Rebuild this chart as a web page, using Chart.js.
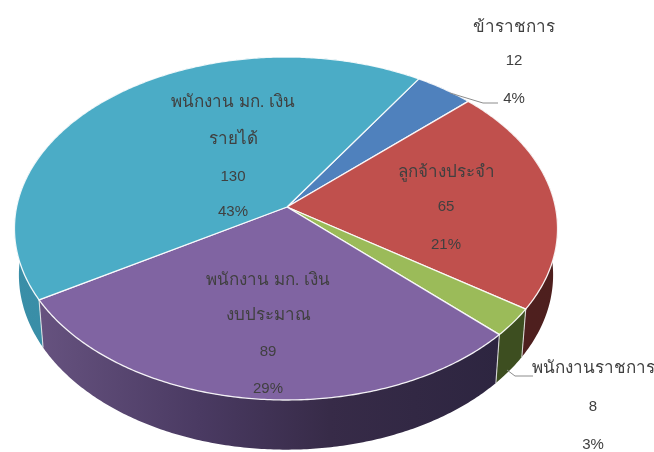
<!DOCTYPE html>
<html><head><meta charset="utf-8">
<style>html,body{margin:0;padding:0;background:#fff}canvas{display:block;filter:blur(.55px)}</style>
<script src="https://cdn.jsdelivr.net/npm/chart.js@4"></script></head>
<body><canvas id="c" width="654" height="452"></canvas>
<script>
const categories=["ข้าราชการ","ลูกจ้างประจำ","พนักงานราชการ","พนักงาน มก. เงิน|งบประมาณ","พนักงาน มก. เงิน|รายได้"];
const values=[12,65,8,89,130];
const topColors=["#4f81bd","#c0504d","#9bbb59","#8064a2","#4bacc6"];
const wallColors=[["#2f4f78","#2f4f78"],["#4d1f1e","#521f1e"],["#3d4e20","#3d4e20"],null,["#2f7f97","#3a8fa8"]];
const labelX=[514,446,593,268,233];
const labelY=[[27,60.5,98.5],[172,206.5,244.5],[368,406.5,444.5],[280,315,351.5,388.5],[102,139,176.5,211.5]];

const top_={cx:286,y0:207,A:269.4,B:168.8,k:0.1254};
const low_={cx:286,y0:253,A:265,B:172,k:0.1254};
function pt(s,a){const u=Math.cos(a),v=Math.sin(a),d=1-s.k*v;return [s.cx+s.A*u/d,s.y0+s.B*v/d];}
function steps(a0,a1){return Math.max(2,Math.ceil((a1-a0)/0.01));}
function arcTrace(ctx,s,a0,a1,move){
  const n=steps(a0,a1);
  for(let i=0;i<=n;i++){const p=pt(s,a0+(a1-a0)*i/n);
    if(i===0&&move)ctx.moveTo(p[0],p[1]);else ctx.lineTo(p[0],p[1]);}
}
Chart.ArcElement.prototype.draw=function(ctx){
  const a0=this.startAngle,a1=this.endAngle;
  ctx.save();
  ctx.beginPath();ctx.moveTo(top_.cx+1,top_.y0);arcTrace(ctx,top_,a0,a1,false);ctx.closePath();
  ctx.fillStyle=this.options.backgroundColor;ctx.fill();
  ctx.lineJoin='round';ctx.strokeStyle='rgba(255,255,255,.9)';ctx.lineWidth=1.3;ctx.stroke();
  ctx.restore();
};
const wallPlugin={id:'wall',beforeDatasetsDraw(chart){
  const ctx=chart.ctx,arcs=chart.getDatasetMeta(0).data;
  arcs.forEach((el,i)=>{
    const a0=el.startAngle,a1=el.endAngle;
    ctx.beginPath();arcTrace(ctx,top_,a0,a1,true);
    const n=steps(a0,a1);
    for(let j=n;j>=0;j--){const p=pt(low_,a0+(a1-a0)*j/n);ctx.lineTo(p[0],p[1]);}
    ctx.closePath();
    const g=ctx.createLinearGradient(0,0,654,0);
    if(wallColors[i]===null){
      g.addColorStop(40/654,"#66527f");g.addColorStop(200/654,"#4a3a62");g.addColorStop(330/654,"#372b48");g.addColorStop(500/654,"#2d2540");
    }else{
      g.addColorStop(0,wallColors[i][1]);g.addColorStop(1,wallColors[i][0]);
    }
    ctx.fillStyle=g;ctx.fill();
  });
  ctx.strokeStyle='rgba(235,235,235,.85)';ctx.lineWidth=1.1;
  arcs.forEach(el=>{
    const a=el.startAngle,v=Math.sin(a);
    if(v>0){const p=pt(top_,a),q=pt(low_,a);ctx.beginPath();ctx.moveTo(p[0],p[1]);ctx.lineTo(q[0],q[1]);ctx.stroke();}
  });
}};
const labelPlugin={id:'labels',afterDatasetsDraw(chart){
  const ctx=chart.ctx,total=values.reduce((a,b)=>a+b,0);
  ctx.save();
  ctx.strokeStyle='#8c8c8c';ctx.lineWidth=1;
  [[[450,93],[483,103],[498,103]],[[507,370],[515,376],[533,376]]].forEach(l=>{
    ctx.beginPath();l.forEach((p,i)=>i?ctx.lineTo(p[0],p[1]):ctx.moveTo(p[0],p[1]));ctx.stroke();});
  ctx.fillStyle='#404040';ctx.textAlign='center';ctx.textBaseline='middle';
  categories.forEach((c,i)=>{
    const lines=c.split('|').concat([String(values[i]),Math.round(values[i]/total*100)+'%']);
    lines.forEach((t,j)=>{
      ctx.font=(/[\u0E00-\u0E7F]/.test(t)?'17':'15')+'px "Liberation Sans","Noto Sans",sans-serif';
      ctx.fillText(t,labelX[i],labelY[i][j]);
    });
  });
  ctx.restore();
}};
new Chart(document.getElementById('c'),{
  type:'pie',
  data:{labels:categories,datasets:[{data:values,backgroundColor:topColors}]},
  options:{responsive:false,animation:false,devicePixelRatio:1,rotation:33,
    plugins:{legend:{display:false},tooltip:{enabled:false}}},
  plugins:[wallPlugin,labelPlugin]
});
</script></body></html>
